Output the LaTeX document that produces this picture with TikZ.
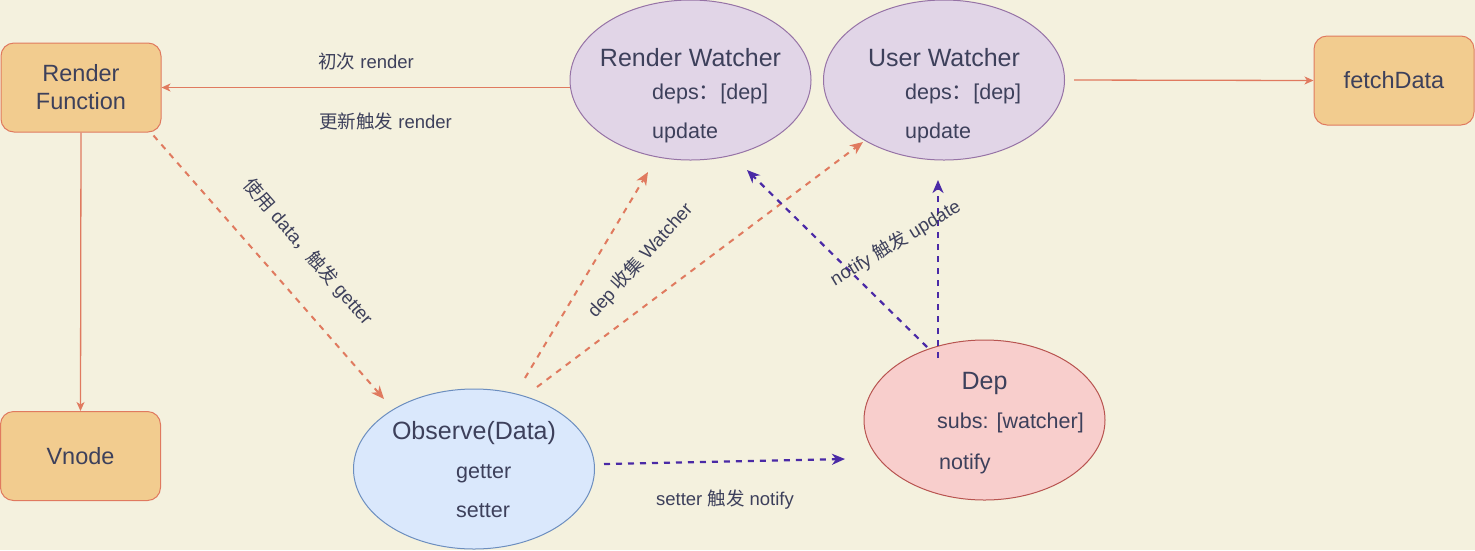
\documentclass[tikz,border=0pt]{standalone}
\usepackage{fontspec}
\setmainfont{Liberation Sans}
\newfontfamily\cjk{Noto Sans CJK SC}
\usetikzlibrary{arrows.meta,shapes.geometric}
\definecolor{bgc}{HTML}{F4F1DE}
\definecolor{boxfill}{HTML}{F2CC8F}
\definecolor{boxline}{HTML}{E07A5F}
\definecolor{txt}{HTML}{3D405B}
\definecolor{purfill}{HTML}{E1D5E7}
\definecolor{purline}{HTML}{9673A6}
\definecolor{bluefill}{HTML}{DAE8FC}
\definecolor{blueline}{HTML}{6C8EBF}
\definecolor{redfill}{HTML}{F8CECC}
\definecolor{redline}{HTML}{B85450}
\definecolor{dashpur}{HTML}{4A2AA6}
\tikzset{
  rbox/.style={draw=boxline, fill=boxfill, line width=1pt, rounded corners=13pt,
    minimum width=160pt, minimum height=89pt, inner sep=0pt, text=txt,
    font=\fontsize{23.5}{28}\selectfont, align=center},
  ell/.style={ellipse, line width=1pt, minimum width=241pt, minimum height=160pt, inner sep=0pt},
  title/.style={text=txt, font=\fontsize{25}{30}\selectfont, inner sep=0pt, text height=18pt, text depth=5pt, yshift=-2.5pt},
  item/.style={text=txt, font=\fontsize{21.5}{26}\selectfont, inner sep=0pt, anchor=west, text height=15.5pt, text depth=4.5pt, yshift=-2.5pt},
  elabel/.style={text=txt, font=\fontsize{18.5}{22}\selectfont, inner sep=0pt, text height=13.5pt, text depth=4pt},
  solidarrow/.style={draw=boxline, line width=1.3pt, -{Stealth[length=9pt,width=8pt,inset=2.5pt]}},
  orangedash/.style={draw=boxline, line width=2pt, dash pattern=on 6pt off 6pt, -{Stealth[length=13pt,width=11pt,inset=4pt]}},
  purpledash/.style={draw=dashpur, line width=2.2pt, dash pattern=on 6pt off 6pt, -{Stealth[length=13pt,width=11pt,inset=4pt]}},
}
\begin{document}
\begin{tikzpicture}[x=1pt,y=-1pt]
\fill[bgc] (0,0) rectangle (1475,550);
\useasboundingbox (0,0) rectangle (1475,550);

% boxes
\node[rbox] (rf) at (81,87.5) {Render\\Function};
\node[rbox] (vn) at (80.5,456) {Vnode};
\node[rbox] (fd) at (1394,80.5) {fetchData};

% ellipses
\node[ell, draw=purline, fill=purfill] (rw) at (690.5,80) {};
\node[ell, draw=purline, fill=purfill] (uw) at (944,80) {};
\node[ell, draw=blueline, fill=bluefill] (obs) at (474,469) {};
\node[ell, draw=redline, fill=redfill] (dep) at (984.5,420) {};

% ellipse texts
\node[title] (rwt) at ([shift={(0,-23)}]rw.center) {Render Watcher};
\node[item] (rwd) at ([shift={(-38.5,11)}]rw.center) {deps{\cjk ：}[dep]};
\node[item] (rwu) at ([shift={(-38.5,50)}]rw.center) {update};

\node[title] (uwt) at ([shift={(0,-23)}]uw.center) {User Watcher};
\node[item] (uwd) at ([shift={(-39,11)}]uw.center) {deps{\cjk ：}[dep]};
\node[item] (uwu) at ([shift={(-39,50)}]uw.center) {update};

\node[title] (obst) at ([shift={(0,-39)}]obs.center) {Observe(Data)};
\node[item] (obsg) at ([shift={(-18,1)}]obs.center) {getter};
\node[item] (obss) at ([shift={(-18,40)}]obs.center) {setter};

\node[title] (dept) at ([shift={(0,-40)}]dep.center) {Dep};
\node[item] (deps) at ([shift={(-47.5,0)}]dep.center) {subs: [watcher]};
\node[item] (depn) at ([shift={(-45.5,41)}]dep.center) {notify};

% solid connectors
\draw[solidarrow] (rw.west |- rf.east) -- (rf.east);
\draw[solidarrow, shorten <=9pt] (uw.east) -- (fd.west);
\draw[solidarrow] (rf.south) -- (vn.north);

% dashed orange
\draw[orangedash] ([shift={(-8,3)}]rf.south east) -- ([shift={(-90,-70)}]obs.center);
\draw[orangedash] ([shift={(51,-91)}]obs.center) -- ([shift={(-42.5,92)}]rw.center);
\draw[orangedash] ([shift={(63,-82)}]obs.center) -- ([shift={(-81,62)}]uw.center);

% dashed purple
\draw[purpledash] ([shift={(-57.5,-73)}]dep.center) -- ([shift={(56.5,90)}]rw.center);
\draw[purpledash] ([shift={(-46.5,-62)}]dep.center) -- ([shift={(-6,100)}]uw.center);
\draw[purpledash] ([shift={(130,-5)}]obs.center) -- ([shift={(-139.5,39)}]dep.center);

% edge labels
\node[elabel, anchor=west, yshift=-2.5pt] (l1) at (318,61) {{\cjk 初次} render};
\node[elabel, anchor=west, yshift=-2.5pt] (l2) at (319,121) {{\cjk 更新触发} render};
\node[elabel, rotate=-49] (l3) at (307,253) {{\cjk 使用} data{\cjk ，触发} getter};
\node[elabel, rotate=48] (l4) at (641,261) {dep {\cjk 收集} Watcher};
\node[elabel, rotate=31] (l5) at (896,244) {notify {\cjk 触发} update};
\node[elabel, yshift=-2.5pt] (l6) at (725,498) {setter {\cjk 触发} notify};
\end{tikzpicture}
\end{document}
